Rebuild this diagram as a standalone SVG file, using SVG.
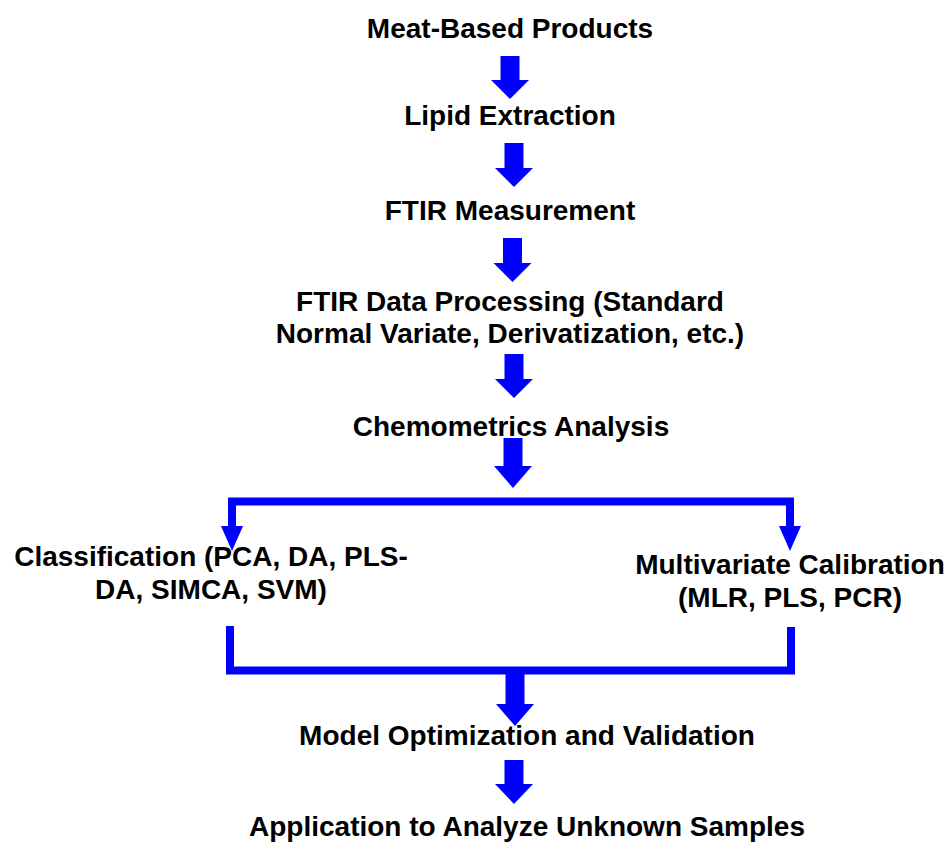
<svg xmlns="http://www.w3.org/2000/svg" width="949" height="843" viewBox="0 0 949 843">
<style>
text{font-family:"Liberation Sans",Arial,sans-serif;font-weight:bold;font-size:28px;fill:#000;text-anchor:middle}
.arr{fill:#0000FF}
.ln{fill:none;stroke:#0000FF;stroke-width:8}
</style>
<rect width="949" height="843" fill="#fff"/>
<g id="n1"><text x="510" y="38">Meat-Based Products</text></g>
<g id="n2"><text x="510" y="125">Lipid Extraction</text></g>
<g id="n3"><text x="510" y="220">FTIR Measurement</text></g>
<g id="n4"><text x="510" y="311">FTIR Data Processing (Standard</text><text x="510" y="343">Normal Variate, Derivatization, etc.)</text></g>
<g id="n5"><text x="511" y="436">Chemometrics Analysis</text></g>
<g id="n6"><text x="211" y="566">Classification (PCA, DA, PLS-</text><text x="211" y="599">DA, SIMCA, SVM)</text></g>
<g id="n7"><text x="790" y="574">Multivariate Calibration</text><text x="790" y="607">(MLR, PLS, PCR)</text></g>
<g id="n8"><text x="527" y="745">Model Optimization and Validation</text></g>
<g id="n9"><text x="527" y="836">Application to Analyze Unknown Samples</text></g>
<g id="connectors">
<polygon class="arr" points="500.5,56 519.5,56 519.5,80 529,80 510,99 491,80 500.5,80"/>
<polygon class="arr" points="504.5,143 523.5,143 523.5,168 533,168 514,187 495,168 504.5,168"/>
<polygon class="arr" points="503,238 522,238 522,263 531.5,263 512.5,282 493.5,263 503,263"/>
<polygon class="arr" points="504.5,354 523.5,354 523.5,379 533,379 514,398 495,379 504.5,379"/>
<polygon class="arr" points="503.5,438 522.5,438 522.5,466 532,466 513,488 494,466 503.5,466"/>
<path class="ln" d="M232,527 V501.5 H790 V527"/>
<polygon class="arr" points="221,526 243,526 232,551"/>
<polygon class="arr" points="779,526 801,526 790,551"/>
<path class="ln" d="M230,626 V670.5 H791 V627"/>
<polygon class="arr" points="505.5,674 524.5,674 524.5,704 534,704 515,726 496,704 505.5,704"/>
<polygon class="arr" points="504.5,760 523.5,760 523.5,784 533,784 514,804 495,784 504.5,784"/>
</g>
</svg>
